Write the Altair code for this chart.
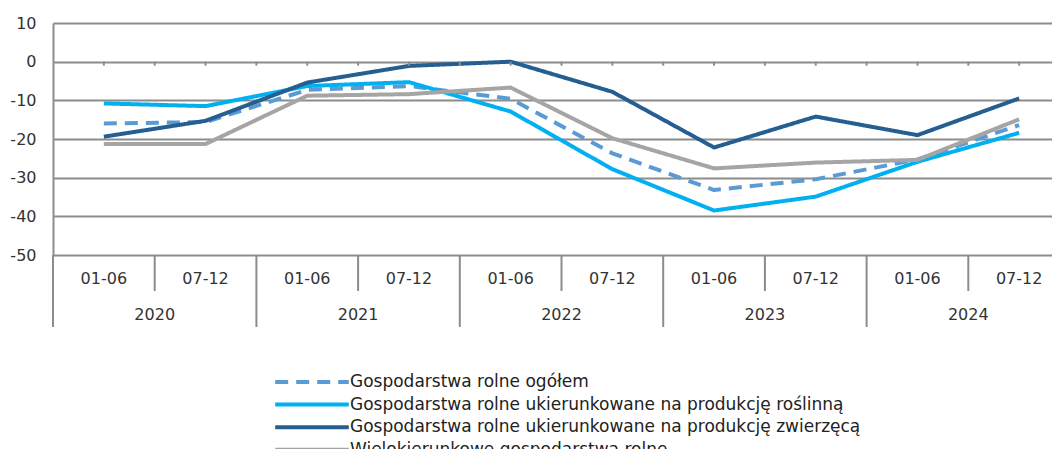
import altair as alt
import pandas as pd

periods = ["01-06", "07-12"] * 5
years = ["2020", "2021", "2022", "2023", "2024"]
series_names = [
    "Gospodarstwa rolne ogółem",
    "Gospodarstwa rolne ukierunkowane na produkcję roślinną",
    "Gospodarstwa rolne ukierunkowane na produkcję zwierzęcą",
    "Wielokierunkowe gospodarstwa rolne",
]
ogolem = [-16.0, -15.6, -7.3, -6.3, -9.6, -23.7, -33.2, -30.4, -25.3, -16.4]
roslinna = [-10.8, -11.5, -6.3, -5.3, -12.9, -27.8, -38.5, -34.9, -25.9, -18.4]
zwierzeca = [-19.4, -15.3, -5.4, -1.1, 0.0, -7.8, -22.2, -14.2, -19.0, -9.5]
wielo = [-21.3, -21.3, -8.8, -8.4, -6.7, -19.8, -27.6, -26.1, -25.4, -14.9]
y_ticks = [-50, -40, -30, -20, -10, 0, 10]

colors = ["#5B9BD5", "#00B0F0", "#255E91", "#A5A5A5"]
dashes = [[13, 8], [1, 0], [1, 0], [1, 0]]
FONT = "DejaVu Sans"
GRID = "#8c8c8c"
TXT = "#333333"

rows = []
for name, vals in zip(series_names, [ogolem, roslinna, zwierzeca, wielo]):
    for i, v in enumerate(vals):
        rows.append({"series": name, "pos": i + 0.5, "value": v})
df = pd.DataFrame(rows)

cat_df = pd.DataFrame({"pos": [i + 0.5 for i in range(10)], "period": periods})
year_df = pd.DataFrame({"pos": [2 * k + 1 for k in range(5)], "year": years})
tick_df = pd.DataFrame({"pos": [0.5 * k for k in range(1, 20)]})
qdiv_df = pd.DataFrame({"pos": [1, 3, 5, 7, 9]})
ydiv_df = pd.DataFrame({"pos": [0, 2, 4, 6, 8]})

xscale = alt.Scale(domain=[0, 9.823], nice=False, zero=False)
yscale = alt.Scale(domain=[-50, 10], nice=False)

y_axis = alt.Axis(
    values=y_ticks,
    grid=True,
    gridColor=GRID,
    gridWidth=2,
    domainColor=GRID,
    domainWidth=2,
    ticks=False,
    labelOverlap=False,
    labelExpr="datum.value + ''",
    labelPadding=17,
    labelFontSize=16,
    labelFont=FONT,
    labelColor=TXT,
    title=None,
)


def X():
    return alt.X("pos:Q", scale=xscale, axis=None)


def YD(v):
    return alt.YDatum(v, scale=yscale, axis=y_axis, title=None)


base_y = alt.Y("value:Q", scale=yscale, title=None, axis=y_axis)

lines = alt.Chart(df).mark_line(strokeWidth=4, strokeJoin="round").encode(
    x=X(),
    y=base_y,
    color=alt.Color(
        "series:N",
        scale=alt.Scale(domain=series_names, range=colors),
        title=None,
        legend=alt.Legend(
            orient="none",
            legendX=249,
            legendY=349,
            direction="vertical",
            symbolType="M-4.6,0H4.6",
            symbolSize=256,
            symbolStrokeWidth=4,
            labelFontSize=17,
            labelFont=FONT,
            labelColor="#222222",
            labelOffset=28,
            rowPadding=4.6,
            labelLimit=800,
        ),
    ),
    strokeDash=alt.StrokeDash(
        "series:N",
        scale=alt.Scale(domain=series_names, range=dashes),
        title=None,
    ),
)

ticks = alt.Chart(tick_df).mark_rule(color=GRID, strokeWidth=2, y2Offset=4).encode(
    x=X(), y=YD(0), y2=alt.Y2Datum(0)
)
qdiv = alt.Chart(qdiv_df).mark_rule(color=GRID, strokeWidth=2, y2Offset=36).encode(
    x=X(), y=YD(-50), y2=alt.Y2Datum(-50)
)
ydiv = alt.Chart(ydiv_df).mark_rule(color=GRID, strokeWidth=2, y2Offset=72).encode(
    x=X(), y=YD(-50), y2=alt.Y2Datum(-50)
)
cat_text = alt.Chart(cat_df).mark_text(
    dy=24, fontSize=16, font=FONT, color=TXT
).encode(x=X(), y=YD(-50), text="period:N")
year_text = alt.Chart(year_df).mark_text(
    dy=60, fontSize=16, font=FONT, color=TXT
).encode(x=X(), y=YD(-50), text="year:N")

chart = (
    alt.layer(lines, ticks, qdiv, ydiv, cat_text, year_text)
    .properties(
        width=999,
        height=232,
        padding={"left": 45, "top": 15, "right": 0, "bottom": 194},
        autosize=alt.AutoSizeParams(type="none"),
    )
    .configure_view(stroke=None)
)

chart.save("out.html", embed_options={"renderer": "svg", "actions": False})
